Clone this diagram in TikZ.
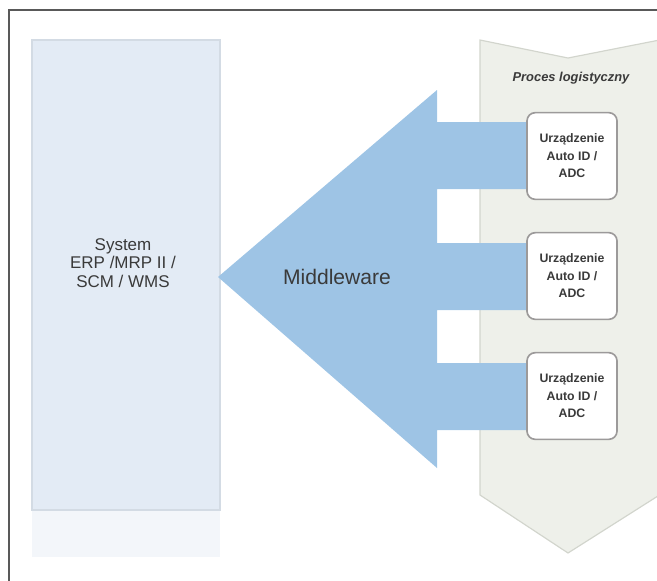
\documentclass[tikz,border=0pt]{standalone}
\usepackage{fontspec}
\setmainfont{Liberation Sans}
\definecolor{arrowblue}{HTML}{9EC4E5}
\definecolor{sysblue}{HTML}{E3EBF5}
\definecolor{sysedge}{HTML}{D3DBE4}
\definecolor{procgray}{HTML}{EEF0EA}
\definecolor{procedge}{HTML}{D2D5CD}
\definecolor{devedge}{HTML}{9C9A9A}
\definecolor{textgray}{HTML}{3A3A3A}
\tikzset{
  device/.style={draw=devedge, line width=1.4pt, rounded corners=7pt, fill=white,
    minimum width=2.7cm, minimum height=2.6cm, align=center, text=textgray,
    font=\bfseries\fontsize{10.5}{15}\selectfont},
}
\begin{document}
\begin{tikzpicture}[x=0.03cm,y=-0.03cm]
    \useasboundingbox (0,0) rectangle (657,580);
    \draw[line width=1.2pt, black!65] (9,600) -- (9,10) -- (680,10);

    % system
    \fill[sysblue!45] (32,510) rectangle (220,557);
    \draw[sysedge, line width=1pt, fill=sysblue] (32,40) rectangle (220,510);
    \node[text=textgray, align=center, font=\fontsize{14.5}{16}\selectfont] (sys) at (123,263) {System\\ERP /MRP II /\\SCM / WMS};

    % proces logistyczny
    \draw[procedge, line width=1pt, fill=procgray] (480,40) -- (568,58) -- (680,36) -- (680,482) -- (568,553) -- (480,495) -- cycle;
    \node[text=textgray, font=\bfseries\itshape\fontsize{11}{12}\selectfont] (proc) at (571,78) {Proces logistyczny};

    % middleware
    \fill[arrowblue] (218,277) -- (437,90) -- (437,122) -- (530,122) -- (530,189) -- (437,189)
        -- (437,243) -- (530,243) -- (530,310) -- (437,310)
        -- (437,363) -- (530,363) -- (530,430) -- (437,430) -- (437,468) -- cycle;
    \node[text=textgray, font=\fontsize{18}{20}\selectfont] (mw) at (337,277) {Middleware};

    % urzadzenia
    \node[device] (dev1) at (572,156) {Urządzenie\\Auto ID /\\ADC};
    \node[device] (dev2) at (572,276) {Urządzenie\\Auto ID /\\ADC};
    \node[device] (dev3) at (572,396) {Urządzenie\\Auto ID /\\ADC};
\end{tikzpicture}
\end{document}
